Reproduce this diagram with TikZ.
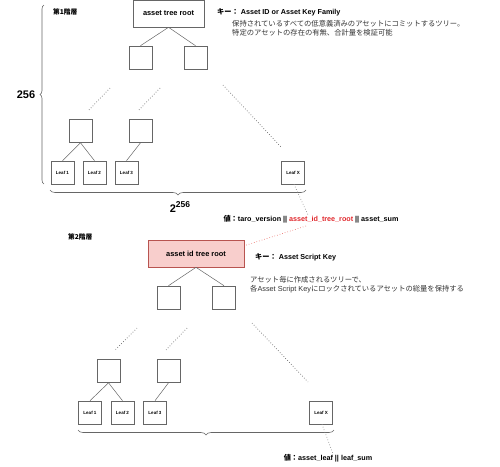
\documentclass[tikz,border=0pt]{standalone}
\usepackage{fontspec}
\setmainfont{Liberation Sans}
\newfontfamily\cjk{Noto Sans CJK JP}
\usetikzlibrary{decorations.pathreplacing}
\definecolor{boxline}{HTML}{666666}
\definecolor{pinkfill}{HTML}{F8CECC}
\definecolor{pinkline}{HTML}{B85450}
\definecolor{redtxt}{HTML}{E0262B}
\definecolor{reddot}{HTML}{EA6B66}
\definecolor{desc}{HTML}{333333}
\begin{document}
\begin{tikzpicture}[x=1pt,y=-1pt,
  box/.style={draw=boxline, line width=0.6pt, minimum width=23pt, minimum height=23pt, inner sep=0pt, font=\fontsize{4.5}{5}\selectfont\bfseries},
  rootbox/.style={draw=boxline, line width=0.6pt, minimum width=71pt, minimum height=27pt, inner sep=0pt, font=\fontsize{7.4}{8}\selectfont\bfseries},
  edge/.style={draw=boxline, line width=0.5pt},
  dots/.style={draw=boxline, line width=0.7pt, dotted},
  bracestyle/.style={draw=boxline, line width=0.6pt, decorate},
  keytxt/.style={anchor=west, inner sep=0pt, font=\fontsize{7.2}{8}\selectfont\bfseries},
  desctxt/.style={anchor=north west, inner sep=0pt, align=left, text=desc, font=\fontsize{7.3}{8.8}\selectfont},
  valtxt/.style={inner sep=0pt, font=\fontsize{7.2}{8}\selectfont\bfseries},
  lvl/.style={anchor=west, inner sep=0pt, font=\fontsize{6.7}{8}\selectfont\bfseries\cjk}
]
\useasboundingbox (0,0) rectangle (500,466);

% ---------- Level 1 ----------
\node[lvl] (lv1) at (53,12) {第1階層};
\node[rootbox] (root1) at (168.5,13.5) {asset tree root};
\node[box] (c1a) at (140.5,57.5) {};
\node[box] (c1b) at (195.5,57.5) {};
\draw[edge] (root1.south) -- (c1a.north);
\draw[edge] (root1.south) -- (c1b.north);

\coordinate (d1a) at (110,88); \coordinate (d1b) at (88,111);
\coordinate (d2a) at (160,88); \coordinate (d2b) at (138,111);
\coordinate (d3a) at (223,85); \coordinate (d3b) at (282,148);
\draw[dots] (d1a) -- (d1b);
\draw[dots] (d2a) -- (d2b);
\draw[dots] (d3a) -- (d3b);

\node[box] (m1a) at (80.5,131) {};
\node[box] (m1b) at (140.5,131) {};
\node[box] (l11) at (62.5,172.5) {Leaf 1};
\node[box] (l12) at (94.5,172.5) {Leaf 2};
\node[box] (l13) at (126.5,172.5) {Leaf 3};
\node[box] (l1x) at (293,172.5) {Leaf X};
\draw[edge] (m1a.south) -- (l11.north);
\draw[edge] (m1a.south) -- (l12.north);
\draw[edge] (m1b.south) -- (l13.north);

\coordinate (b1s) at (44,184); \coordinate (b1e) at (44,5);
\draw[bracestyle, decoration={brace, amplitude=4pt}] (b1s) -- (b1e);
\node[inner sep=0pt, font=\fontsize{11}{12}\selectfont\bfseries] (n256) at (26,95) {256};

\coordinate (b2s) at (306,190); \coordinate (b2e) at (50,190);
\draw[bracestyle, decoration={brace, amplitude=5pt}] (b2s) -- (b2e);
\node[inner sep=0pt, font=\fontsize{11}{12}\selectfont\bfseries] (n2256) at (180,207) {2\raisebox{4.5pt}{\fontsize{8.5}{9}\selectfont 256}};

\node[keytxt] (k1) at (217,12) {{\cjk キー：} Asset ID or Asset Key Family};
\node[desctxt] (dsc1) at (232,20) {{\cjk 保持されているすべての低意義済みのアセットにコミットするツリー。}\\{\cjk 特定のアセットの存在の有無、合計量を検証可能}};

\node[valtxt] (v1) at (311,219) {{\cjk 値：}taro\_version || \textcolor{redtxt}{asset\_id\_tree\_root} || asset\_sum};
\coordinate (redpt) at (306,226);
\draw[dots, draw=boxline!70] ([xshift=1pt]l1x.south) -- ([xshift=-3pt]v1.north);

% ---------- Level 2 ----------
\node[lvl] (lv2) at (68,237) {第2階層};
\node[rootbox, fill=pinkfill, draw=pinkline, minimum width=96pt] (root2) at (196,253.5) {asset id tree root};
\draw[dots, draw=reddot, line width=0.6pt] (redpt) -- ([yshift=-6pt]root2.north east);
\node[box] (c2a) at (168.5,297.5) {};
\node[box] (c2b) at (224,297.5) {};
\draw[edge] (root2.south) -- (c2a.north);
\draw[edge] (root2.south) -- (c2b.north);

\node[keytxt] (k2) at (255,257) {{\cjk キー：} Asset Script Key};
\node[desctxt] (dsc2) at (250,276) {{\cjk アセット毎に作成されるツリーで、}\\{\cjk 各}Asset Script Key{\cjk にロックされているアセットの総量を保持する}};

\coordinate (e1a) at (137,328); \coordinate (e1b) at (115,350);
\coordinate (e2a) at (187,328); \coordinate (e2b) at (166,350);
\coordinate (e3a) at (252,323); \coordinate (e3b) at (308,382);
\draw[dots] (e1a) -- (e1b);
\draw[dots] (e2a) -- (e2b);
\draw[dots] (e3a) -- (e3b);

\node[box] (m2a) at (108.5,371) {};
\node[box] (m2b) at (168.5,371) {};
\node[box] (l21) at (90,412.5) {Leaf 1};
\node[box] (l22) at (122.5,412.5) {Leaf 2};
\node[box] (l23) at (155,412.5) {Leaf 3};
\node[box] (l2x) at (321,412.5) {Leaf X};
\draw[edge] (m2a.south) -- (l21.north);
\draw[edge] (m2a.south) -- (l22.north);
\draw[edge] (m2b.south) -- (l23.north);

\coordinate (b3s) at (334,430); \coordinate (b3e) at (78,430);
\draw[bracestyle, decoration={brace, amplitude=5pt}] (b3s) -- (b3e);

\node[valtxt] (v2) at (328,458) {{\cjk 値：}asset\_leaf || leaf\_sum};
\draw[dots, draw=boxline!70] ([xshift=1pt]l2x.south) -- ([xshift=5pt]v2.north);
\end{tikzpicture}
\end{document}
